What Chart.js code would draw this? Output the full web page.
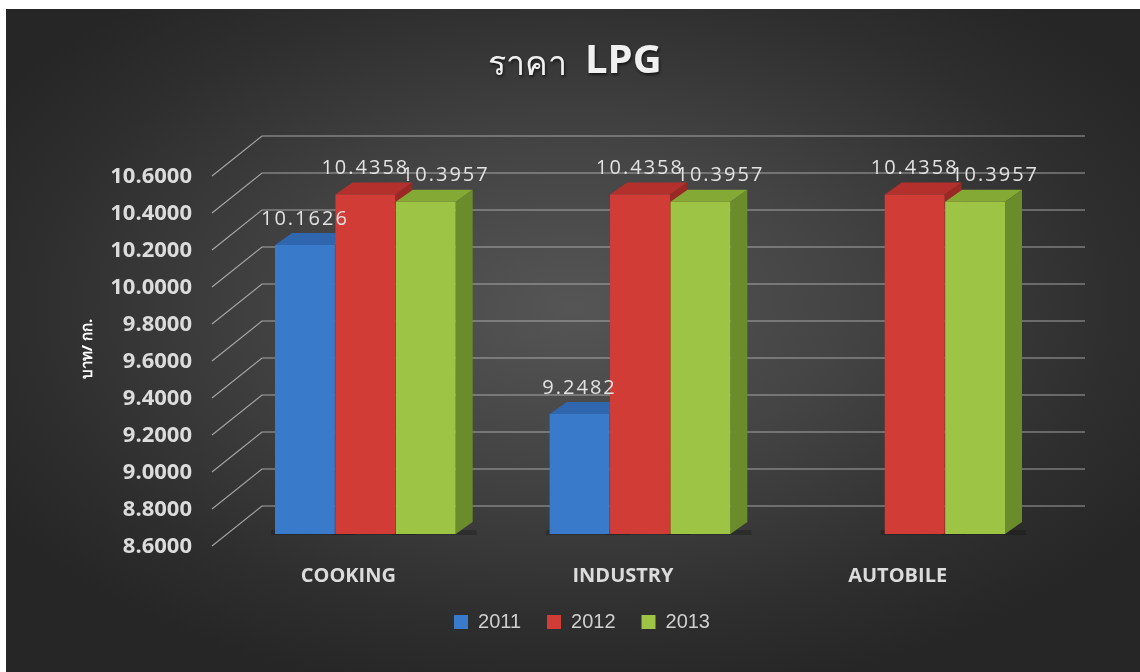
<!DOCTYPE html>
<html>
<head>
<meta charset="utf-8">
<script src="https://cdn.jsdelivr.net/npm/chart.js@4"></script>
<style>
  html, body { margin: 0; padding: 0; background: #fff; }
  #wrap {
    position: absolute; left: 6px; top: 9px; width: 1134px; height: 663px;
    background: radial-gradient(ellipse 60% 60% at 50% 45%, #555 0%, #444 40%, #2e2e2e 80%, #262626 100%);
  }
</style>
</head>
<body>
<div id="wrap"><canvas id="myChart" width="1134" height="663"></canvas></div>
<script>
"use strict";

const categories = ["COOKING", "INDUSTRY", "AUTOBILE"];
const years = ["2011", "2012", "2013"];
const values2011 = [10.1626, 9.2482, null];
const values2012 = [10.4358, 10.4358, 10.4358];
const values2013 = [10.3957, 10.3957, 10.3957];
const axisMin = 8.6;
const axisMax = 10.6;
const axisStep = 0.2;

const fronts = ["#3a7acb", "#d13c37", "#9dc444"];
const sides = ["#22508e", "#9a2825", "#6a8c2a"];
const tops = ["#2f66ad", "#b3302c", "#84a935"];

// depth of the fake 3d bars
const dx = 17;
const dy = 12;

const threeD = {
  id: "threeD",
  beforeDatasetsDraw(chart) {
    const ctx = chart.ctx;
    const y = chart.scales.y;
    const area = chart.chartArea;
    ctx.save();
    // back wall lines
    ctx.strokeStyle = "rgba(200,200,200,0.75)";
    ctx.lineWidth = 1.2;
    y.ticks.forEach((t) => {
      const py = y.getPixelForValue(t.value);
      ctx.beginPath();
      ctx.moveTo(area.left - 16, py + 12);
      ctx.lineTo(area.left + 34, py - 28);
      ctx.lineTo(area.right + 33, py - 28);
      ctx.stroke();
    });
    const base = area.bottom;
    // floor shadow
    ctx.fillStyle = "rgba(0,0,0,0.2)";
    chart.data.datasets.forEach((ds, i) => {
      chart.getDatasetMeta(i).data.forEach((bar, j) => {
        if (ds.data[j] == null) return;
        ctx.fillRect(bar.x - bar.width / 2 - 4, base - 4, bar.width + dx + 8, 5);
      });
    });
    // side and top faces
    chart.data.datasets.forEach((ds, i) => {
      chart.getDatasetMeta(i).data.forEach((bar, j) => {
        if (ds.data[j] == null) return;
        const l = bar.x - bar.width / 2;
        const r = bar.x + bar.width / 2;
        ctx.fillStyle = sides[i];
        ctx.beginPath();
        ctx.moveTo(r, bar.y);
        ctx.lineTo(r + dx, bar.y - dy);
        ctx.lineTo(r + dx, base - dy);
        ctx.lineTo(r, base);
        ctx.closePath();
        ctx.fill();
        ctx.fillStyle = tops[i];
        ctx.beginPath();
        ctx.moveTo(l, bar.y);
        ctx.lineTo(l + dx, bar.y - dy);
        ctx.lineTo(r + dx, bar.y - dy);
        ctx.lineTo(r, bar.y);
        ctx.closePath();
        ctx.fill();
      });
    });
    ctx.restore();
  },
  afterDatasetsDraw(chart) {
    const ctx = chart.ctx;
    ctx.save();
    ctx.font = "20px 'Open Sans'";
    ctx.letterSpacing = "2px";
    ctx.fillStyle = "#e2e2e2";
    ctx.textAlign = "center";
    ctx.textBaseline = "bottom";
    const nudge = [0, 0, 20];
    chart.data.datasets.forEach((ds, i) => {
      chart.getDatasetMeta(i).data.forEach((bar, j) => {
        if (ds.data[j] == null) return;
        ctx.fillText(ds.data[j].toFixed(4), bar.x + nudge[i], bar.y - dy - 4);
      });
    });
    ctx.restore();
  },
  afterDraw(chart) {
    const ctx = chart.ctx;
    ctx.save();
    ctx.textBaseline = "middle";
    ctx.fillStyle = "#f0f0f0";
    ctx.shadowColor = "rgba(0,0,0,0.6)";
    ctx.shadowOffsetX = 1;
    ctx.shadowOffsetY = 2;
    ctx.shadowBlur = 3;
    const part1 = "ราคา  ";
    const part2 = "LPG";
    const f1 = "300 34px 'Noto Sans', sans-serif";
    const f2 = "bold 40px 'Open Sans'";
    ctx.font = f1;
    const w1 = ctx.measureText(part1).width;
    ctx.font = f2;
    const w2 = ctx.measureText(part2).width;
    const start = 569 - (w1 + w2) / 2;
    ctx.font = f1;
    ctx.textAlign = "left";
    ctx.fillText(part1, start, 56);
    ctx.font = f2;
    ctx.fillText(part2, start + w1, 53);
    ctx.restore();
  },
};

const data = {
  labels: categories,
  datasets: [
    { label: years[0], data: values2011, backgroundColor: fronts[0] },
    { label: years[1], data: values2012, backgroundColor: fronts[1] },
    { label: years[2], data: values2013, backgroundColor: fronts[2] },
  ],
};

const config = {
  type: "bar",
  data: data,
  options: {
    responsive: false,
    animation: false,
    layout: { padding: { left: 106, top: 155, right: 88, bottom: 30 } },
    datasets: {
      bar: { categoryPercentage: 0.66, barPercentage: 0.99 },
    },
    scales: {
      x: {
        grid: { display: false, drawTicks: false },
        border: { display: false },
        ticks: {
          color: "#dcdcdc",
          font: { family: "'Open Sans'", size: 20, weight: "bold" },
          padding: 30,
          labelOffset: -17,
        },
        afterFit(scale) { scale.height = 52; },
      },
      y: {
        min: axisMin,
        max: axisMax,
        grid: { display: false, drawTicks: false },
        border: { display: false },
        ticks: {
          stepSize: axisStep,
          color: "#dcdcdc",
          font: { family: "'Open Sans'", size: 22, weight: "bold" },
          padding: 36,
          labelOffset: 13,
          callback: (v) => Number(v).toFixed(4),
        },
        title: {
          display: true,
          text: "บาท/ กก.",
          color: "#ffffff",
          font: { family: "'Noto Sans', sans-serif", size: 15, weight: "bold" },
          padding: { top: -33, bottom: 0 },
        },
        afterFit(scale) { scale.width = 116; },
      },
    },
    plugins: {
      legend: {
        position: "bottom",
        labels: {
          color: "#cfcfcf",
          boxWidth: 14,
          boxHeight: 14,
          padding: 26,
          font: { family: "'Liberation Sans'", size: 20 },
        },
      },
      tooltip: { enabled: false },
    },
  },
  plugins: [threeD],
};

new Chart(document.getElementById("myChart"), config);
</script>
</body>
</html>
